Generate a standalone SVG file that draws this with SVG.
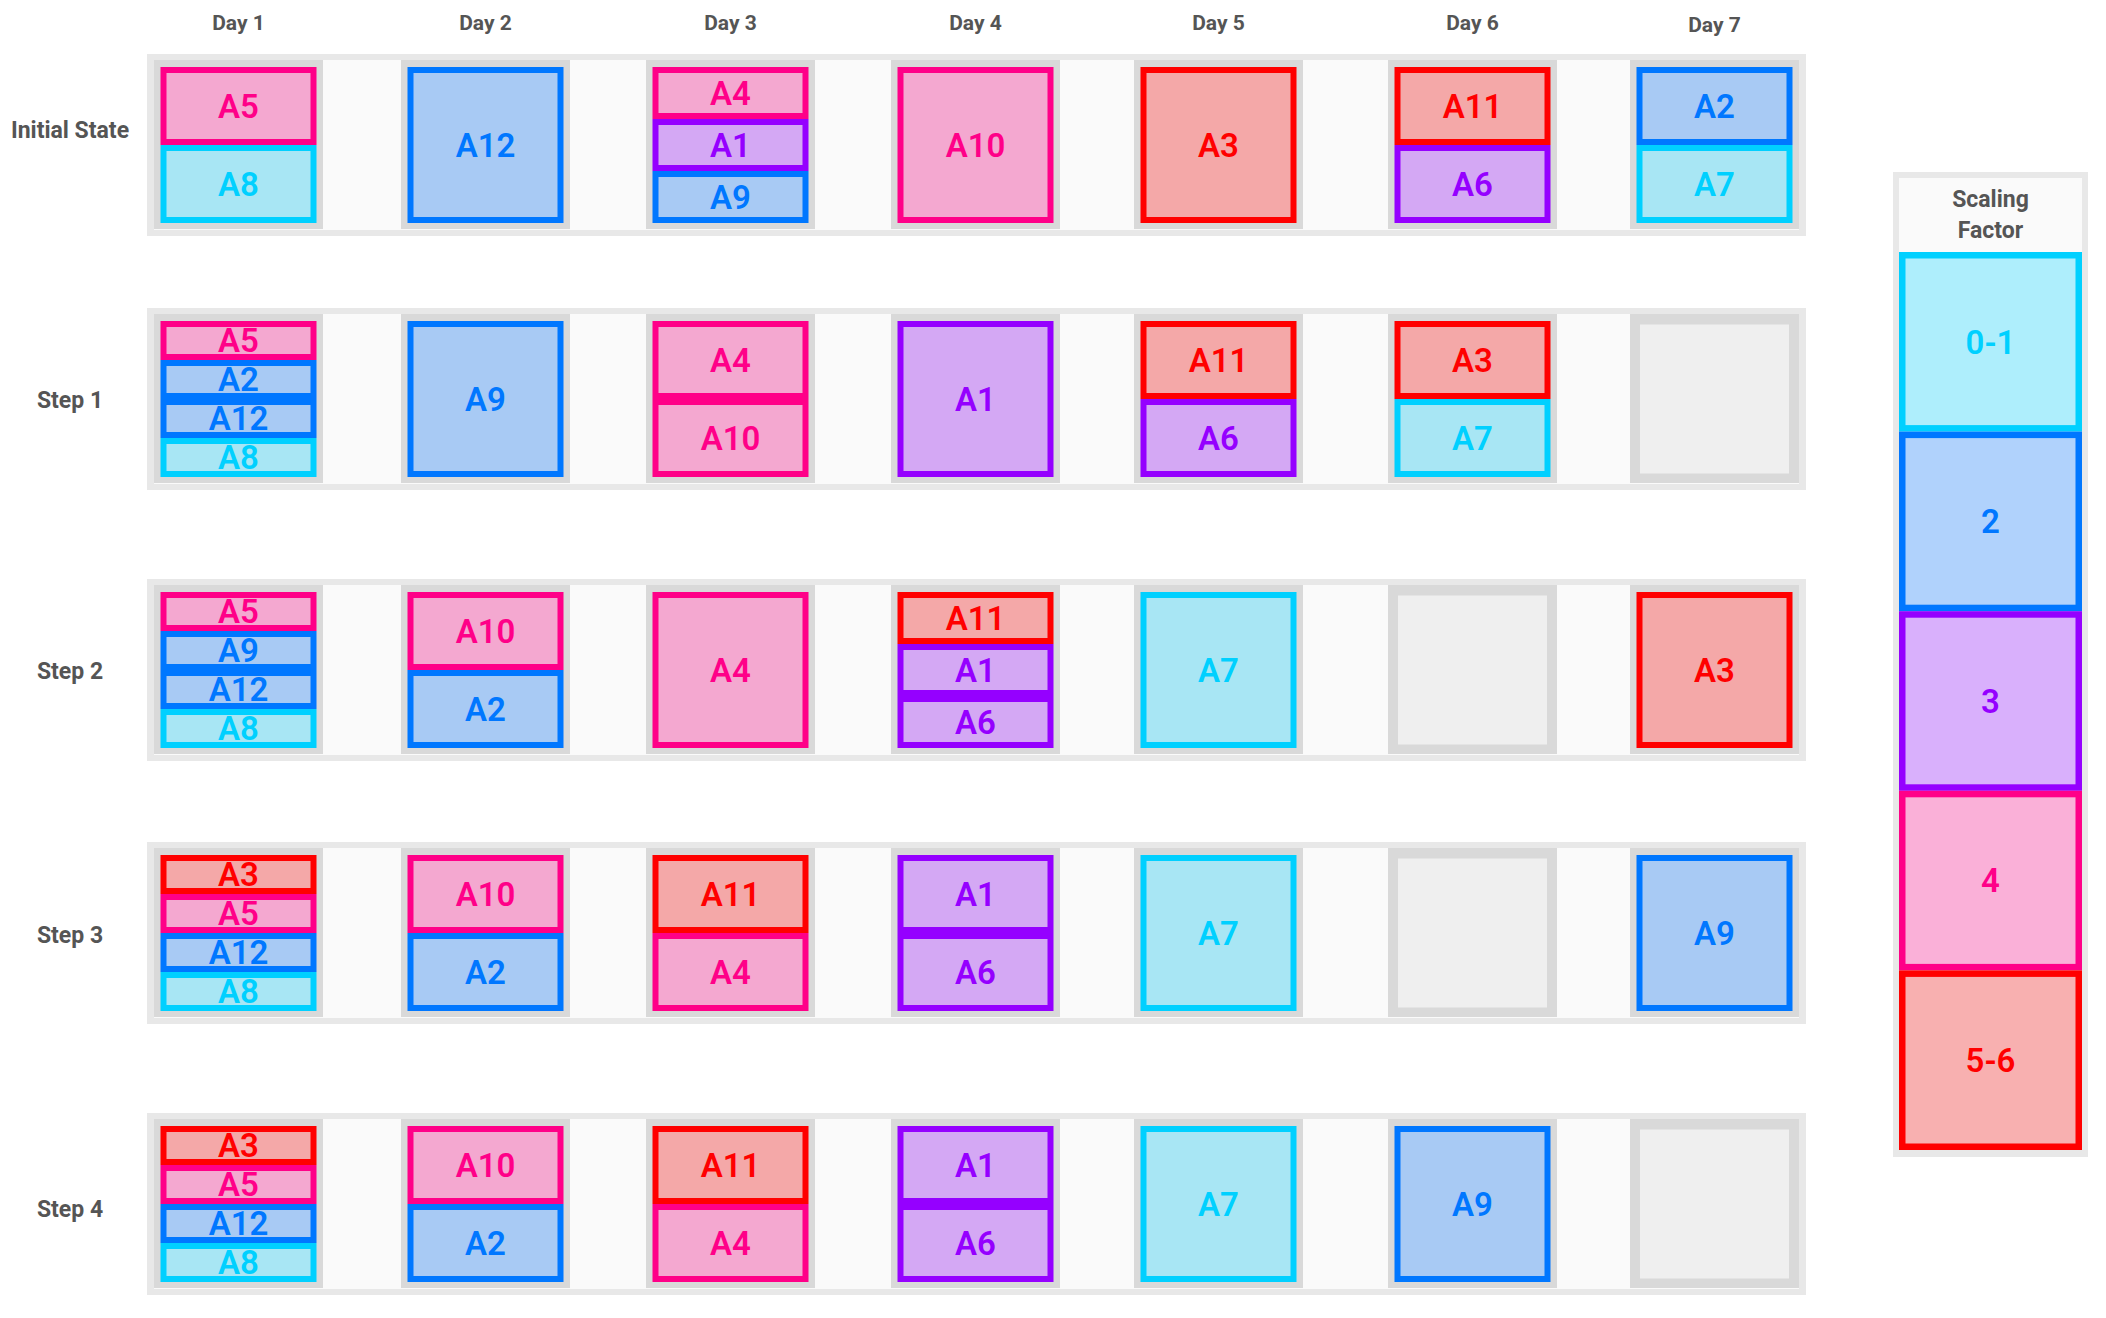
<svg xmlns="http://www.w3.org/2000/svg" width="2106" height="1318" viewBox="0 0 2106 1318">
<style>
text{font-family:Roboto,"Liberation Sans",sans-serif;font-weight:700;text-anchor:middle}
.lbl{fill:#555;font-size:23px}
.day{fill:#555;font-size:21px}
.band{fill:#e8e8e8}
.inner{fill:#fafafa}
.cell{fill:#d9d9d9}
.b{stroke-width:6}
.t{font-size:33px;font-weight:600}
.pk{fill:#f4a8d0;stroke:#ff0088}
.cy{fill:#a8e6f4;stroke:#00d0ff}
.bl{fill:#a8caf4;stroke:#0077ff}
.pu{fill:#d4a8f4;stroke:#9500ff}
.rd{fill:#f4a8a8;stroke:#ff0000}
.tpk{fill:#ff0088}.tcy{fill:#00d0ff}.tbl{fill:#0077ff}.tpu{fill:#9500ff}.trd{fill:#ff0000}
.empty{fill:#efefef;stroke:#d9d9d9;stroke-width:4}
.lg{stroke-width:6.5}
.lcy{fill:#aeeefc;stroke:#00d0ff}.lbl2{fill:#b0d2fc;stroke:#0077ff}.lpu{fill:#d9b0fc;stroke:#9500ff}.lpk{fill:#fab0d8;stroke:#ff0088}.lrd{fill:#f8b0b0;stroke:#ff0000}
</style>

<g id="day-labels">
<text class="day" x="238.5" y="30">Day 1</text>
<text class="day" x="485.5" y="30">Day 2</text>
<text class="day" x="730.5" y="30">Day 3</text>
<text class="day" x="975.5" y="30">Day 4</text>
<text class="day" x="1218.5" y="30">Day 5</text>
<text class="day" x="1472.5" y="30">Day 6</text>
<text class="day" x="1714.5" y="32">Day 7</text>
</g>

<g id="row-labels">
<text class="lbl" x="70" y="138">Initial State</text>
<text class="lbl" x="70" y="408">Step 1</text>
<text class="lbl" x="70" y="679">Step 2</text>
<text class="lbl" x="70" y="943">Step 3</text>
<text class="lbl" x="70" y="1217">Step 4</text>
</g>

<g id="bands">
<rect class="band" x="147" y="54" width="1659" height="182"/>
<rect class="inner" x="154" y="60" width="1645" height="170"/>
<rect class="band" x="147" y="308" width="1659" height="182"/>
<rect class="inner" x="154" y="314" width="1645" height="170"/>
<rect class="band" x="147" y="579" width="1659" height="182"/>
<rect class="inner" x="154" y="585" width="1645" height="170"/>
<rect class="band" x="147" y="842" width="1659" height="182"/>
<rect class="inner" x="154" y="848" width="1645" height="170"/>
<rect class="band" x="147" y="1113" width="1659" height="182"/>
<rect class="inner" x="154" y="1119" width="1645" height="170"/>
</g>

<g id="cells">
<rect class="cell" x="154" y="60" width="169" height="169"/><rect class="cell" x="401" y="60" width="169" height="169"/><rect class="cell" x="646" y="60" width="169" height="169"/><rect class="cell" x="891" y="60" width="169" height="169"/><rect class="cell" x="1134" y="60" width="169" height="169"/><rect class="cell" x="1388" y="60" width="169" height="169"/><rect class="cell" x="1630" y="60" width="169" height="169"/>
<rect class="cell" x="154" y="314" width="169" height="169"/><rect class="cell" x="401" y="314" width="169" height="169"/><rect class="cell" x="646" y="314" width="169" height="169"/><rect class="cell" x="891" y="314" width="169" height="169"/><rect class="cell" x="1134" y="314" width="169" height="169"/><rect class="cell" x="1388" y="314" width="169" height="169"/><rect class="cell" x="1630" y="314" width="169" height="169"/>
<rect class="cell" x="154" y="585" width="169" height="169"/><rect class="cell" x="401" y="585" width="169" height="169"/><rect class="cell" x="646" y="585" width="169" height="169"/><rect class="cell" x="891" y="585" width="169" height="169"/><rect class="cell" x="1134" y="585" width="169" height="169"/><rect class="cell" x="1388" y="585" width="169" height="169"/><rect class="cell" x="1630" y="585" width="169" height="169"/>
<rect class="cell" x="154" y="848" width="169" height="169"/><rect class="cell" x="401" y="848" width="169" height="169"/><rect class="cell" x="646" y="848" width="169" height="169"/><rect class="cell" x="891" y="848" width="169" height="169"/><rect class="cell" x="1134" y="848" width="169" height="169"/><rect class="cell" x="1388" y="848" width="169" height="169"/><rect class="cell" x="1630" y="848" width="169" height="169"/>
<rect class="cell" x="154" y="1119" width="169" height="169"/><rect class="cell" x="401" y="1119" width="169" height="169"/><rect class="cell" x="646" y="1119" width="169" height="169"/><rect class="cell" x="891" y="1119" width="169" height="169"/><rect class="cell" x="1134" y="1119" width="169" height="169"/><rect class="cell" x="1388" y="1119" width="169" height="169"/><rect class="cell" x="1630" y="1119" width="169" height="169"/>
</g>

<!-- Initial State -->
<g id="init-d1-A5"><rect class="b pk" x="163.5" y="70" width="150" height="72"/><text class="t tpk" x="238.5" y="117.5">A5</text></g>
<g id="init-d1-A8"><rect class="b cy" x="163.5" y="148" width="150" height="72"/><text class="t tcy" x="238.5" y="195.5">A8</text></g>
<g id="init-d2-A12"><rect class="b bl" x="410.5" y="70" width="150" height="150"/><text class="t tbl" x="485.5" y="156.5">A12</text></g>
<g id="init-d3-A4"><rect class="b pk" x="655.5" y="70" width="150" height="46"/><text class="t tpk" x="730.5" y="104.5">A4</text></g>
<g id="init-d3-A1"><rect class="b pu" x="655.5" y="122" width="150" height="46"/><text class="t tpu" x="730.5" y="156.5">A1</text></g>
<g id="init-d3-A9"><rect class="b bl" x="655.5" y="174" width="150" height="46"/><text class="t tbl" x="730.5" y="208.5">A9</text></g>
<g id="init-d4-A10"><rect class="b pk" x="900.5" y="70" width="150" height="150"/><text class="t tpk" x="975.5" y="156.5">A10</text></g>
<g id="init-d5-A3"><rect class="b rd" x="1143.5" y="70" width="150" height="150"/><text class="t trd" x="1218.5" y="156.5">A3</text></g>
<g id="init-d6-A11"><rect class="b rd" x="1397.5" y="70" width="150" height="72"/><text class="t trd" x="1472.5" y="117.5">A11</text></g>
<g id="init-d6-A6"><rect class="b pu" x="1397.5" y="148" width="150" height="72"/><text class="t tpu" x="1472.5" y="195.5">A6</text></g>
<g id="init-d7-A2"><rect class="b bl" x="1639.5" y="70" width="150" height="72"/><text class="t tbl" x="1714.5" y="117.5">A2</text></g>
<g id="init-d7-A7"><rect class="b cy" x="1639.5" y="148" width="150" height="72"/><text class="t tcy" x="1714.5" y="195.5">A7</text></g>

<!-- Step 1 -->
<g id="s1-d1-A5"><rect class="b pk" x="163.5" y="324" width="150" height="33"/><text class="t tpk" x="238.5" y="352">A5</text></g>
<g id="s1-d1-A2"><rect class="b bl" x="163.5" y="363" width="150" height="33"/><text class="t tbl" x="238.5" y="391">A2</text></g>
<g id="s1-d1-A12"><rect class="b bl" x="163.5" y="402" width="150" height="33"/><text class="t tbl" x="238.5" y="430">A12</text></g>
<g id="s1-d1-A8"><rect class="b cy" x="163.5" y="441" width="150" height="33"/><text class="t tcy" x="238.5" y="469">A8</text></g>
<g id="s1-d2-A9"><rect class="b bl" x="410.5" y="324" width="150" height="150"/><text class="t tbl" x="485.5" y="410.5">A9</text></g>
<g id="s1-d3-A4"><rect class="b pk" x="655.5" y="324" width="150" height="72"/><text class="t tpk" x="730.5" y="371.5">A4</text></g>
<g id="s1-d3-A10"><rect class="b pk" x="655.5" y="402" width="150" height="72"/><text class="t tpk" x="730.5" y="449.5">A10</text></g>
<g id="s1-d4-A1"><rect class="b pu" x="900.5" y="324" width="150" height="150"/><text class="t tpu" x="975.5" y="410.5">A1</text></g>
<g id="s1-d5-A11"><rect class="b rd" x="1143.5" y="324" width="150" height="72"/><text class="t trd" x="1218.5" y="371.5">A11</text></g>
<g id="s1-d5-A6"><rect class="b pu" x="1143.5" y="402" width="150" height="72"/><text class="t tpu" x="1218.5" y="449.5">A6</text></g>
<g id="s1-d6-A3"><rect class="b rd" x="1397.5" y="324" width="150" height="72"/><text class="t trd" x="1472.5" y="371.5">A3</text></g>
<g id="s1-d6-A7"><rect class="b cy" x="1397.5" y="402" width="150" height="72"/><text class="t tcy" x="1472.5" y="449.5">A7</text></g>
<g id="s1-d7-empty"><rect class="empty" x="1638" y="322.5" width="153" height="153"/></g>

<!-- Step 2 -->
<g id="s2-d1-A5"><rect class="b pk" x="163.5" y="595" width="150" height="33"/><text class="t tpk" x="238.5" y="623">A5</text></g>
<g id="s2-d1-A9"><rect class="b bl" x="163.5" y="634" width="150" height="33"/><text class="t tbl" x="238.5" y="662">A9</text></g>
<g id="s2-d1-A12"><rect class="b bl" x="163.5" y="673" width="150" height="33"/><text class="t tbl" x="238.5" y="701">A12</text></g>
<g id="s2-d1-A8"><rect class="b cy" x="163.5" y="712" width="150" height="33"/><text class="t tcy" x="238.5" y="740">A8</text></g>
<g id="s2-d2-A10"><rect class="b pk" x="410.5" y="595" width="150" height="72"/><text class="t tpk" x="485.5" y="642.5">A10</text></g>
<g id="s2-d2-A2"><rect class="b bl" x="410.5" y="673" width="150" height="72"/><text class="t tbl" x="485.5" y="720.5">A2</text></g>
<g id="s2-d3-A4"><rect class="b pk" x="655.5" y="595" width="150" height="150"/><text class="t tpk" x="730.5" y="681.5">A4</text></g>
<g id="s2-d4-A11"><rect class="b rd" x="900.5" y="595" width="150" height="46"/><text class="t trd" x="975.5" y="629.5">A11</text></g>
<g id="s2-d4-A1"><rect class="b pu" x="900.5" y="647" width="150" height="46"/><text class="t tpu" x="975.5" y="681.5">A1</text></g>
<g id="s2-d4-A6"><rect class="b pu" x="900.5" y="699" width="150" height="46"/><text class="t tpu" x="975.5" y="733.5">A6</text></g>
<g id="s2-d5-A7"><rect class="b cy" x="1143.5" y="595" width="150" height="150"/><text class="t tcy" x="1218.5" y="681.5">A7</text></g>
<g id="s2-d6-empty"><rect class="empty" x="1396" y="593.5" width="153" height="153"/></g>
<g id="s2-d7-A3"><rect class="b rd" x="1639.5" y="595" width="150" height="150"/><text class="t trd" x="1714.5" y="681.5">A3</text></g>

<!-- Step 3 -->
<g id="s3-d1-A3"><rect class="b rd" x="163.5" y="858" width="150" height="33"/><text class="t trd" x="238.5" y="886">A3</text></g>
<g id="s3-d1-A5"><rect class="b pk" x="163.5" y="897" width="150" height="33"/><text class="t tpk" x="238.5" y="925">A5</text></g>
<g id="s3-d1-A12"><rect class="b bl" x="163.5" y="936" width="150" height="33"/><text class="t tbl" x="238.5" y="964">A12</text></g>
<g id="s3-d1-A8"><rect class="b cy" x="163.5" y="975" width="150" height="33"/><text class="t tcy" x="238.5" y="1003">A8</text></g>
<g id="s3-d2-A10"><rect class="b pk" x="410.5" y="858" width="150" height="72"/><text class="t tpk" x="485.5" y="905.5">A10</text></g>
<g id="s3-d2-A2"><rect class="b bl" x="410.5" y="936" width="150" height="72"/><text class="t tbl" x="485.5" y="983.5">A2</text></g>
<g id="s3-d3-A11"><rect class="b rd" x="655.5" y="858" width="150" height="72"/><text class="t trd" x="730.5" y="905.5">A11</text></g>
<g id="s3-d3-A4"><rect class="b pk" x="655.5" y="936" width="150" height="72"/><text class="t tpk" x="730.5" y="983.5">A4</text></g>
<g id="s3-d4-A1"><rect class="b pu" x="900.5" y="858" width="150" height="72"/><text class="t tpu" x="975.5" y="905.5">A1</text></g>
<g id="s3-d4-A6"><rect class="b pu" x="900.5" y="936" width="150" height="72"/><text class="t tpu" x="975.5" y="983.5">A6</text></g>
<g id="s3-d5-A7"><rect class="b cy" x="1143.5" y="858" width="150" height="150"/><text class="t tcy" x="1218.5" y="944.5">A7</text></g>
<g id="s3-d6-empty"><rect class="empty" x="1396" y="856.5" width="153" height="153"/></g>
<g id="s3-d7-A9"><rect class="b bl" x="1639.5" y="858" width="150" height="150"/><text class="t tbl" x="1714.5" y="944.5">A9</text></g>

<!-- Step 4 -->
<g id="s4-d1-A3"><rect class="b rd" x="163.5" y="1129" width="150" height="33"/><text class="t trd" x="238.5" y="1157">A3</text></g>
<g id="s4-d1-A5"><rect class="b pk" x="163.5" y="1168" width="150" height="33"/><text class="t tpk" x="238.5" y="1196">A5</text></g>
<g id="s4-d1-A12"><rect class="b bl" x="163.5" y="1207" width="150" height="33"/><text class="t tbl" x="238.5" y="1235">A12</text></g>
<g id="s4-d1-A8"><rect class="b cy" x="163.5" y="1246" width="150" height="33"/><text class="t tcy" x="238.5" y="1274">A8</text></g>
<g id="s4-d2-A10"><rect class="b pk" x="410.5" y="1129" width="150" height="72"/><text class="t tpk" x="485.5" y="1176.5">A10</text></g>
<g id="s4-d2-A2"><rect class="b bl" x="410.5" y="1207" width="150" height="72"/><text class="t tbl" x="485.5" y="1254.5">A2</text></g>
<g id="s4-d3-A11"><rect class="b rd" x="655.5" y="1129" width="150" height="72"/><text class="t trd" x="730.5" y="1176.5">A11</text></g>
<g id="s4-d3-A4"><rect class="b pk" x="655.5" y="1207" width="150" height="72"/><text class="t tpk" x="730.5" y="1254.5">A4</text></g>
<g id="s4-d4-A1"><rect class="b pu" x="900.5" y="1129" width="150" height="72"/><text class="t tpu" x="975.5" y="1176.5">A1</text></g>
<g id="s4-d4-A6"><rect class="b pu" x="900.5" y="1207" width="150" height="72"/><text class="t tpu" x="975.5" y="1254.5">A6</text></g>
<g id="s4-d5-A7"><rect class="b cy" x="1143.5" y="1129" width="150" height="150"/><text class="t tcy" x="1218.5" y="1215.5">A7</text></g>
<g id="s4-d6-A9"><rect class="b bl" x="1397.5" y="1129" width="150" height="150"/><text class="t tbl" x="1472.5" y="1215.5">A9</text></g>
<g id="s4-d7-empty"><rect class="empty" x="1638" y="1127.5" width="153" height="153"/></g>

<!-- Legend -->
<g id="legend">
<rect fill="#e8e8e8" x="1893" y="172" width="195" height="985"/>
<rect fill="#fafafa" x="1899" y="178" width="183" height="74"/>
<text class="lbl" x="1990.5" y="207">Scaling</text>
<text class="lbl" x="1990.5" y="238">Factor</text>
<g id="legend-0-1"><rect class="lg lcy" x="1902.25" y="255.25" width="176.5" height="173.1"/><text class="t tcy" x="1990.5" y="353.5">0-1</text></g>
<g id="legend-2"><rect class="lg lbl2" x="1902.25" y="434.85" width="176.5" height="173.1"/><text class="t tbl" x="1990.5" y="532.5">2</text></g>
<g id="legend-3"><rect class="lg lpu" x="1902.25" y="614.45" width="176.5" height="173.1"/><text class="t tpu" x="1990.5" y="712.5">3</text></g>
<g id="legend-4"><rect class="lg lpk" x="1902.25" y="794.05" width="176.5" height="173.1"/><text class="t tpk" x="1990.5" y="891.5">4</text></g>
<g id="legend-5-6"><rect class="lg lrd" x="1902.25" y="973.65" width="176.5" height="173.1"/><text class="t trd" x="1990.5" y="1071.5">5-6</text></g>
</g>

<g id="connectors"></g>
</svg>
